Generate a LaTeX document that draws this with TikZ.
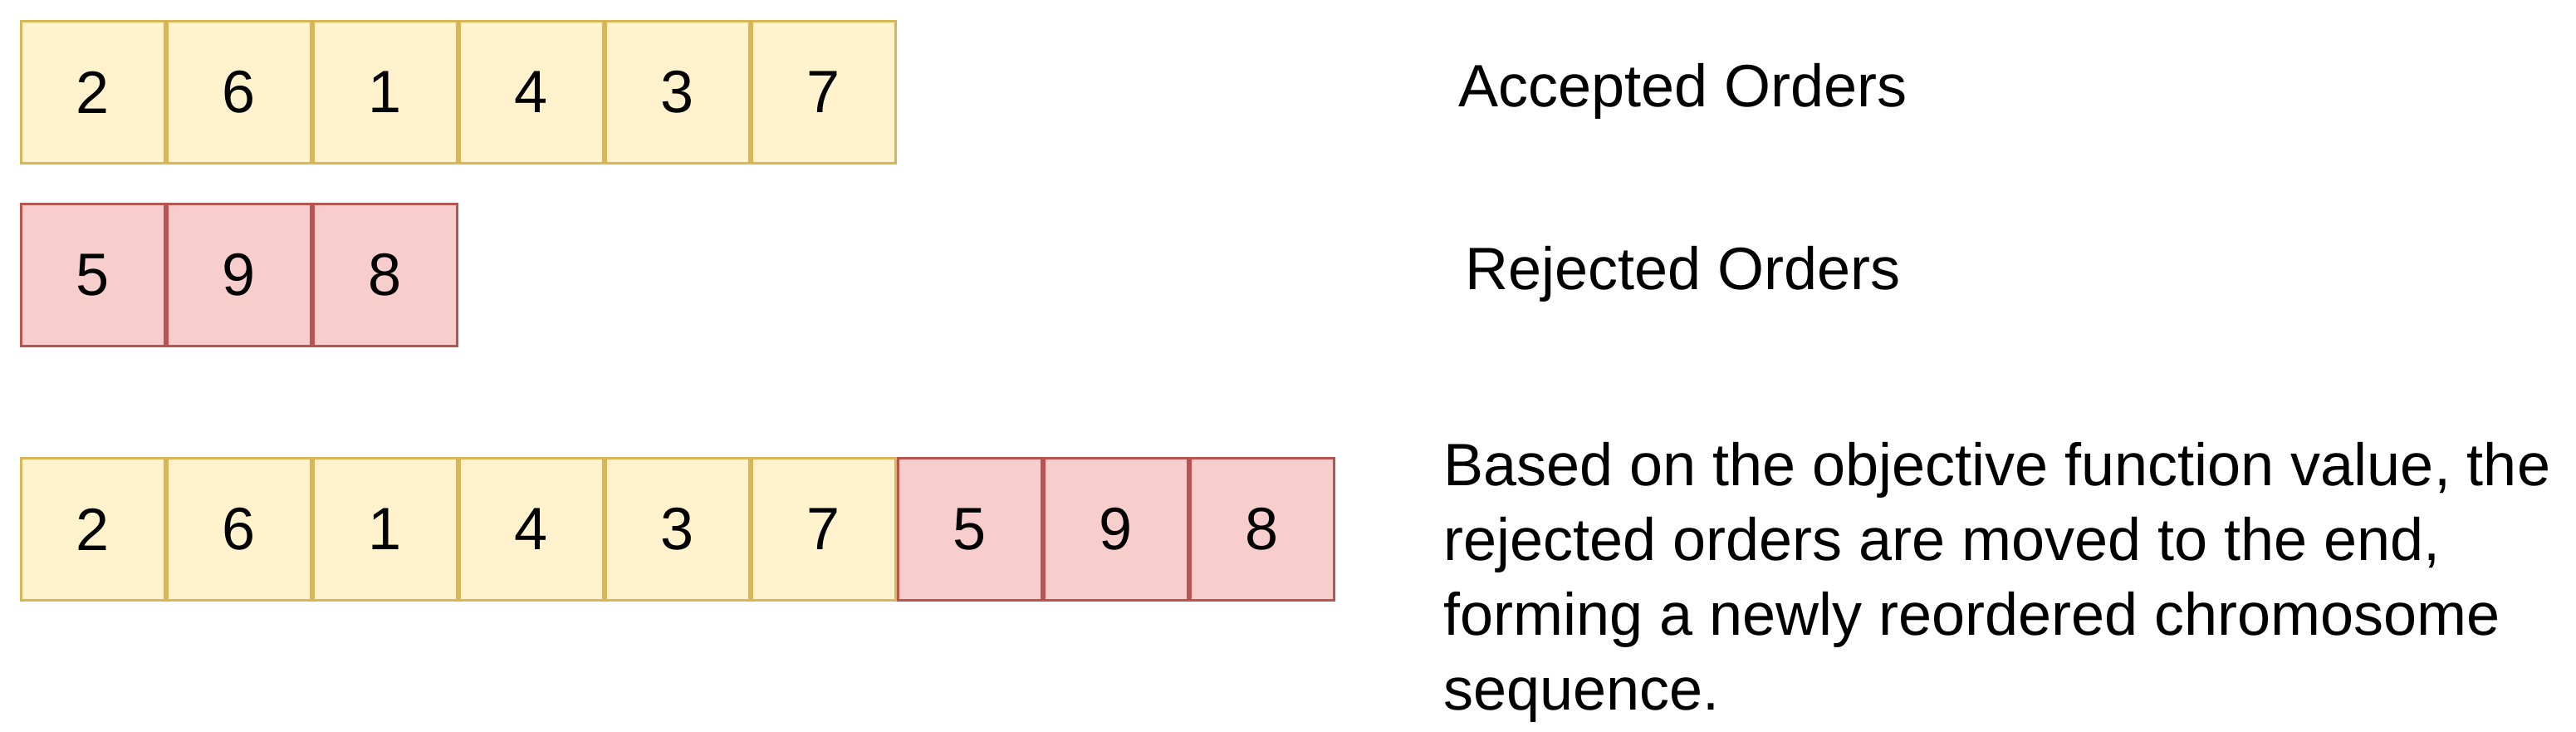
\documentclass[tikz,border=0pt]{standalone}
\usepackage{fontspec}
\setmainfont{Liberation Sans}
\definecolor{yfill}{HTML}{FFF2CC}\definecolor{ydraw}{HTML}{D6B656}
\definecolor{rfill}{HTML}{F8CECC}\definecolor{rdraw}{HTML}{B85450}
\begin{document}
\begin{tikzpicture}[x=1pt,y=-1pt,
  cell/.style={minimum width=86.4pt,minimum height=85.4pt,inner sep=0pt,outer sep=0pt,anchor=center,line width=1.6pt,font=\fontsize{36}{44}\selectfont},
  acc/.style={cell,fill=yfill,draw=ydraw},
  rej/.style={cell,fill=rfill,draw=rdraw},
  lbl/.style={inner sep=0pt,font=\fontsize{36}{45}\selectfont}]
\useasboundingbox (0,0) rectangle (1551,440);
\foreach \v [count=\i from 0] in {2,6,1,4,3,7}
  \node[acc] (a\i) at (56+88*\i,55.5) {\v};
\foreach \v [count=\i from 0] in {5,9,8}
  \node[rej] (r\i) at (56+88*\i,165.5) {\v};
\foreach \v [count=\i from 0] in {2,6,1,4,3,7}
  \node[acc] (c\i) at (56+88*\i,318.5) {\v};
\foreach \v [count=\i from 6] in {5,9,8}
  \node[rej] (c\i) at (56+88*\i,318.5) {\v};
\node[lbl,anchor=west] (ta) at (878,55) {Accepted Orders};
\node[lbl,anchor=west] (tr) at (882,165) {Rejected Orders};
\node[lbl,anchor=north west,align=left] (tb) at (869,266) {Based on the objective function value, the\\rejected orders are moved to the end,\\forming a newly reordered chromosome\\sequence.};
\end{tikzpicture}
\end{document}
